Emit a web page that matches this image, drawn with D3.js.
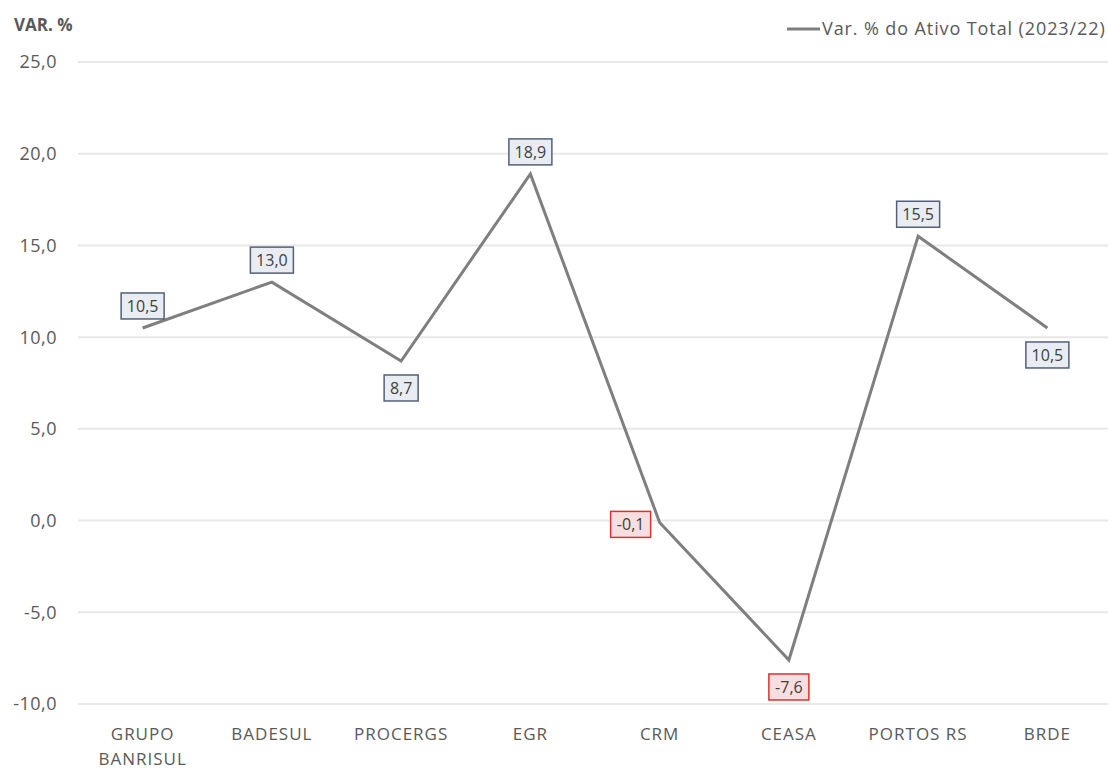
<!DOCTYPE html>
<html>
<head>
<meta charset="utf-8">
<script src="https://cdn.jsdelivr.net/npm/d3@7"></script>
<style>
  body { margin: 0; background: #fff; font-family: "Open Sans", sans-serif; }
</style>
</head>
<body>
<svg id="chart" width="1109" height="769"></svg>
<script>
const categories = ["GRUPO BANRISUL", "BADESUL", "PROCERGS", "EGR", "CRM", "CEASA", "PORTOS RS", "BRDE"];
const values = [10.5, 13.0, 8.7, 18.9, -0.1, -7.6, 15.5, 10.5];
const labelPos = ["above", "above", "below", "above", "left", "below", "above", "below"];
const yTicks = [-10, -5, 0, 5, 10, 15, 20, 25];
const seriesName = "Var. % do Ativo Total (2023/22)";

const svg = d3.select("#chart");
const fmt = v => d3.format(".1f")(v).replace(".", ",").replace("−", "-");

const x = d3.scalePoint().domain(categories).range([78, 1112]).padding(0.5);
const y = d3.scaleLinear().domain([-10, 25]).range([704, 62]);

// gridlines
svg.append("g")
  .selectAll("line")
  .data(yTicks)
  .join("line")
    .attr("x1", 78).attr("x2", 1108)
    .attr("y1", d => y(d)).attr("y2", d => y(d))
    .attr("stroke", "#e8e8e8")
    .attr("stroke-width", 2);

// y axis labels
svg.append("g")
  .selectAll("text")
  .data(yTicks)
  .join("text")
    .attr("x", 57)
    .attr("y", d => y(d))
    .attr("dy", "0.36em")
    .attr("text-anchor", "end")
    .attr("fill", "#595959")
    .attr("font-size", 18)
    .attr("letter-spacing", 0.5)
    .text(d => fmt(d));

// x axis labels
svg.append("g")
  .selectAll("text")
  .data(categories)
  .join("text")
    .attr("x", d => x(d))
    .attr("y", 740)
    .attr("text-anchor", "middle")
    .attr("fill", "#595959")
    .attr("font-size", 17)
    .attr("letter-spacing", 1)
    .each(function(d) {
      const words = d === "GRUPO BANRISUL" ? ["GRUPO", "BANRISUL"] : [d];
      d3.select(this).selectAll("tspan")
        .data(words)
        .join("tspan")
          .attr("x", x(d))
          .attr("dy", (w, i) => i ? 25 : 0)
          .text(w => w);
    });

// line
const line = d3.line()
  .x((d, i) => x(categories[i]))
  .y(d => y(d));

svg.append("path")
  .datum(values)
  .attr("d", line)
  .attr("fill", "none")
  .attr("stroke", "#7f7f7f")
  .attr("stroke-width", 3)
  .attr("stroke-linejoin", "miter");

// data labels
const lbl = svg.append("g")
  .selectAll("g")
  .data(values)
  .join("g")
    .attr("transform", (d, i) => {
      const px = x(categories[i]), py = y(d);
      const p = labelPos[i];
      if (p === "above") return `translate(${px},${py - 22})`;
      if (p === "below") return `translate(${px},${py + 27})`;
      return `translate(${px - 29},${py + 2})`;
    });

const boxW = d => d < 0 ? 40 : (Math.abs(d) >= 10 ? 43 : 34);

lbl.append("rect")
  .attr("x", d => -boxW(d) / 2)
  .attr("y", -13)
  .attr("width", boxW)
  .attr("height", 26)
  .attr("fill", d => d < 0 ? "#f8dede" : "#e9edf2")
  .attr("stroke", d => d < 0 ? "#e0302d" : "#52607a")
  .attr("stroke-width", 1.5);

lbl.append("text")
  .attr("text-anchor", "middle")
  .attr("dy", "0.36em")
  .attr("fill", "#404040")
  .attr("font-size", 16)
  .text(d => fmt(d));

// axis title
svg.append("text")
  .attr("x", 14).attr("y", 31)
  .attr("font-size", 17)
  .attr("font-weight", "bold")
  .attr("fill", "#595959")
  .text("VAR. %");

// legend
svg.append("line")
  .attr("x1", 787).attr("x2", 820)
  .attr("y1", 29).attr("y2", 29)
  .attr("stroke", "#7f7f7f")
  .attr("stroke-width", 3);
svg.append("text")
  .attr("x", 822).attr("y", 29)
  .attr("dy", "0.36em")
  .attr("font-size", 18)
  .attr("letter-spacing", 0.9)
  .attr("fill", "#595959")
  .text(seriesName);
</script>
</body>
</html>
